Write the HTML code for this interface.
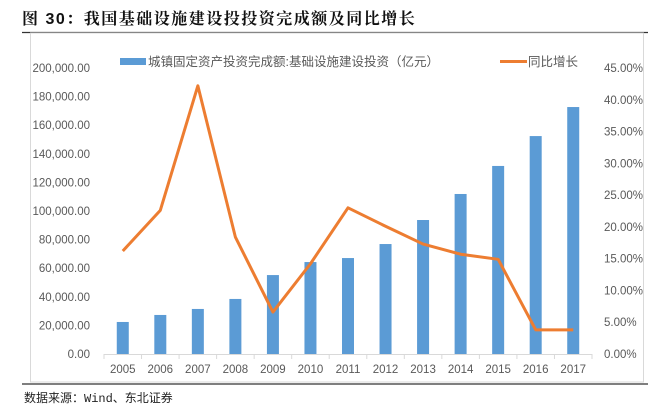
<!DOCTYPE html>
<html><head><meta charset="utf-8"><style>
body{margin:0;background:#fff;width:670px;height:410px;overflow:hidden;font-family:"Liberation Sans","Noto Sans CJK SC",sans-serif}
svg{display:block}
</style></head><body>
<svg width="670" height="410" id="svg">
<text x="22" y="24" font-size="16" letter-spacing="1.5" font-weight="bold" fill="#111" font-family="Liberation Sans, Noto Serif CJK SC, Noto Sans CJK SC, sans-serif">图 30：我国基础设施建设投投资完成额及同比增长</text>
<line x1="22" y1="32.5" x2="648" y2="32.5" stroke="#333" stroke-width="1.2"/>
<rect x="30.5" y="33" width="613" height="349" fill="none" stroke="#d9d9d9"/>
<line x1="22" y1="384" x2="648" y2="384" stroke="#333" stroke-width="1.2"/>
<text x="24" y="402" font-size="12" fill="#222" font-family="Liberation Mono, Noto Sans CJK SC, monospace">数据来源：Wind、东北证券</text>
<g>
<rect x="120" y="58" width="26" height="7" fill="#5b9bd5"/>
<text x="148" y="66" font-size="12.5" fill="#595959">城镇固定资产投资完成额:基础设施建设投资（亿元）</text>
<line x1="500" y1="61.5" x2="527" y2="61.5" stroke="#ed7d31" stroke-width="3"/>
<text x="528" y="66" font-size="12.5" fill="#595959">同比增长</text>
</g>
<g id="plot"></g>
</svg>
<script>
const years=['2005','2006','2007','2008','2009','2010','2011','2012','2013','2014','2015','2016','2017'];
const investment=[22400,27300,31500,38500,55200,64300,67100,76900,93700,111900,131500,152400,172700];
const growth=[16.2,22.6,42.2,18.4,6.6,14.2,23.0,20.1,17.3,15.7,14.9,3.8,3.8];
const leftTicks=[0,20000,40000,60000,80000,100000,120000,140000,160000,180000,200000];
const rightTicks=[0,5,10,15,20,25,30,35,40,45];
const NS='http://www.w3.org/2000/svg',g=document.getElementById('plot');
const x0=104,x1=592,yb=354,yt=68,step=(x1-x0)/years.length;
const xc=i=>x0+step*(i+0.5);
const yL=v=>yb-(v/200000)*(yb-yt);
const yR=v=>yb-(v/45)*(yb-yt);
function el(t,a){const e=document.createElementNS(NS,t);for(const k in a)e.setAttribute(k,a[k]);g.appendChild(e);return e;}
leftTicks.forEach(v=>{const t=el('text',{x:90,y:yL(v)+4,'font-size':11.5,fill:'#595959','text-anchor':'end'});t.textContent=v.toLocaleString('en-US',{minimumFractionDigits:2});

});
rightTicks.forEach(v=>{const t=el('text',{x:604,y:yR(v)+4,'font-size':11.5,fill:'#595959'});t.textContent=v.toFixed(2)+'%';

});
investment.forEach((v,i)=>{const r=el('rect',{x:xc(i)-6,y:yL(v),width:12,height:yb-yL(v),fill:'#5b9bd5'});

});
const ax=el('line',{x1:x0,y1:yb+0.5,x2:x1,y2:yb+0.5,stroke:'#d9d9d9'});


for(let i=0;i<=years.length;i++){const tk=el('line',{x1:x0+step*i,y1:yb,x2:x0+step*i,y2:yb+5,stroke:'#d9d9d9'});

}
years.forEach((y,i)=>{const t=el('text',{x:xc(i),y:373,'font-size':11.5,fill:'#595959','text-anchor':'middle'});t.textContent=y;

});
const pl=el('polyline',{points:growth.map((v,i)=>xc(i)+','+yR(v)).join(' '),fill:'none',stroke:'#ed7d31','stroke-width':3,'stroke-linejoin':'round'});


</script>
</body></html>
